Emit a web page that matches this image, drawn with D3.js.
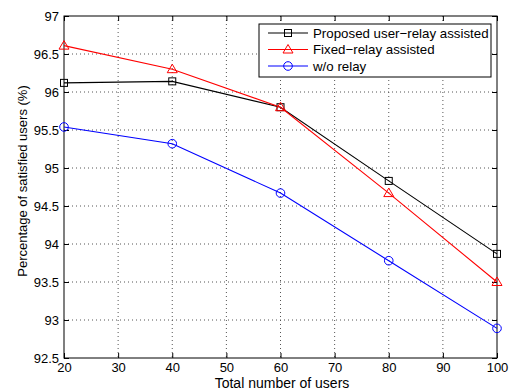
<!DOCTYPE html>
<html>
<head>
<meta charset="utf-8">
<script src="https://cdn.jsdelivr.net/npm/d3@7"></script>
<style>
  body { margin: 0; background: #fff; }
  text { font-family: "Liberation Sans", Arial, sans-serif; fill: #000; }
</style>
</head>
<body>
<svg id="chart" width="513" height="392"></svg>
<script>
'use strict'

const users = [20, 40, 60, 80, 100]
const proposed = [96.12, 96.14, 95.80, 94.83, 93.87]
const fixedRelay = [96.61, 96.30, 95.80, 94.67, 93.50]
const noRelay = [95.54, 95.32, 94.67, 93.78, 92.89]
const xTicks = [20, 30, 40, 50, 60, 70, 80, 90, 100]
const yTicks = [92.5, 93, 93.5, 94, 94.5, 95, 95.5, 96, 96.5, 97]
const seriesNames = ['Proposed user\u2212relay assisted', 'Fixed\u2212relay assisted', 'w/o relay']

const plotLeft = 64, plotRight = 497, plotTop = 16, plotBottom = 358

const svg = d3.select('#chart')
const x = d3.scaleLinear().domain([20, 100]).range([plotLeft, plotRight])
const y = d3.scaleLinear().domain([92.5, 97]).range([plotBottom, plotTop])

// dotted grid
const grid = svg.append('g').attr('stroke', '#555').attr('stroke-width', 1)
    .attr('stroke-dasharray', '1,3')
grid.selectAll('.gx').data(xTicks.slice(1, -1)).enter().append('line')
    .attr('x1', d => x(d)).attr('x2', d => x(d))
    .attr('y1', plotTop).attr('y2', plotBottom)
grid.selectAll('.gy').data(yTicks.slice(1, -1)).enter().append('line')
    .attr('x1', plotLeft).attr('x2', plotRight)
    .attr('y1', d => y(d)).attr('y2', d => y(d))

// axes, matlab style: ticks inward on all four sides
function styleAxis(g) {
    g.select('.domain').remove()
    g.selectAll('line').attr('stroke', '#000')
    g.selectAll('text').style('font-size', '13px')
}
svg.append('g').attr('transform', 'translate(0,' + plotBottom + ')')
    .call(d3.axisBottom(x).tickValues(xTicks).tickSize(-5).tickPadding(5))
    .call(styleAxis)
svg.append('g').attr('transform', 'translate(' + plotLeft + ',0)')
    .call(d3.axisLeft(y).tickValues(yTicks).tickSize(-5).tickPadding(5).tickFormat(d3.format('')))
    .call(styleAxis)
svg.append('g').attr('transform', 'translate(0,' + plotTop + ')')
    .call(d3.axisTop(x).tickValues(xTicks).tickSize(-5).tickFormat(''))
    .call(styleAxis)
svg.append('g').attr('transform', 'translate(' + plotRight + ',0)')
    .call(d3.axisRight(y).tickValues(yTicks).tickSize(-5).tickFormat(''))
    .call(styleAxis)

svg.append('rect')
    .attr('x', plotLeft).attr('y', plotTop)
    .attr('width', plotRight - plotLeft).attr('height', plotBottom - plotTop)
    .attr('fill', 'none').attr('stroke', '#000')

const series = [
    {name: seriesNames[0], values: proposed, color: '#000', marker: 'square'},
    {name: seriesNames[1], values: fixedRelay, color: '#f00', marker: 'triangle'},
    {name: seriesNames[2], values: noRelay, color: '#00f', marker: 'circle'},
]

function drawMarker(g, type, color) {
    if (type === 'square') {
        g.append('rect').attr('x', -3.5).attr('y', -3.5).attr('width', 7).attr('height', 7)
    } else if (type === 'triangle') {
        g.append('path').attr('d', 'M0,-5L5,3.5L-5,3.5Z')
    } else {
        g.append('circle').attr('r', 4.3)
    }
    g.selectAll('*').attr('fill', 'none').attr('stroke', color).attr('stroke-width', 1)
}

const line = d3.line().x((d, i) => x(users[i])).y(d => y(d))

series.forEach(function (s) {
    svg.append('path')
        .datum(s.values)
        .attr('d', line)
        .attr('fill', 'none')
        .attr('stroke', s.color)
        .attr('stroke-width', 1.1)
    svg.selectAll(null).data(s.values).enter().append('g')
        .attr('transform', (d, i) => 'translate(' + x(users[i]) + ',' + y(d) + ')')
        .each(function () { drawMarker(d3.select(this), s.marker, s.color) })
})

// legend
const legend = svg.append('g').attr('transform', 'translate(259,24)')
legend.append('rect')
    .attr('width', 232).attr('height', 53)
    .attr('fill', '#fff').attr('stroke', '#000')
series.forEach(function (s, i) {
    const row = legend.append('g').attr('transform', 'translate(0,' + (9 + i * 16.5) + ')')
    row.append('line').attr('x1', 9).attr('x2', 49)
        .attr('stroke', s.color).attr('stroke-width', 1.1)
    drawMarker(row.append('g').attr('transform', 'translate(29,0)'), s.marker, s.color)
    row.append('text').attr('x', 54).attr('dy', '0.35em')
        .style('font-size', '13.3px').text(s.name)
})

// axis titles
svg.append('text')
    .attr('x', 282).attr('y', 388)
    .attr('text-anchor', 'middle').style('font-size', '14px')
    .text('Total number of users')
svg.append('text')
    .attr('transform', 'translate(27,181) rotate(-90)')
    .attr('text-anchor', 'middle').style('font-size', '13px')
    .text('Percentage of satisfied users (%)')
</script>
</body>
</html>
